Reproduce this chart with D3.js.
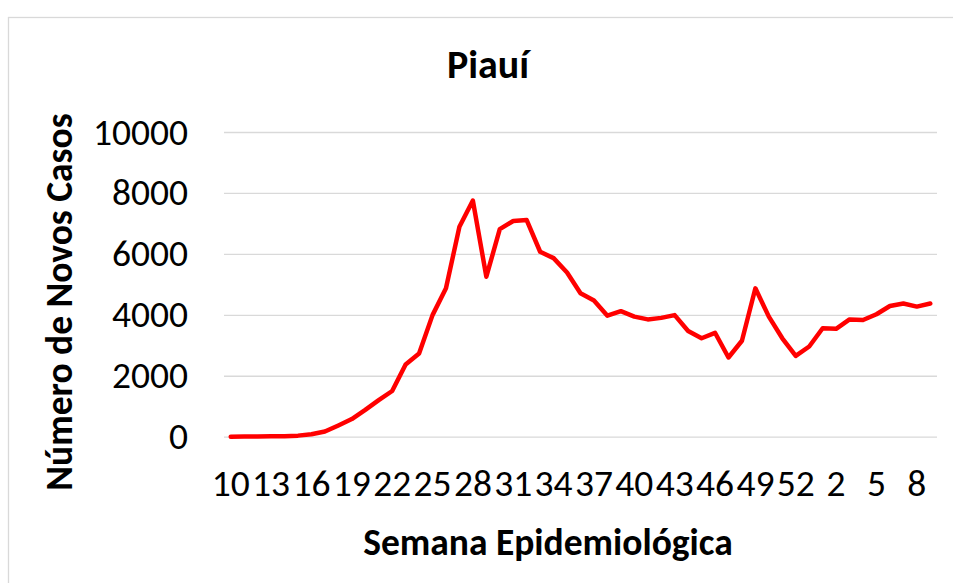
<!DOCTYPE html>
<html>
<head>
<meta charset="utf-8">
<script src="https://cdn.jsdelivr.net/npm/d3@7"></script>
<style>
  body { margin: 0; background: #fff; }
  svg text { font-family: Carlito, "Open Sans", "Liberation Sans", sans-serif; fill: #000; }
  .tick-label { font-size: 37.5px; }
  .bold-label { font-size: 37.5px; font-weight: bold; }
  .chart-title { font-size: 40px; font-weight: bold; }
</style>
</head>
<body>
<div id="chart"></div>
<script>
// weeks 10-53 of 2020, then 1-9 of 2021
var weeks = ["10","11","12","13","14","15","16","17","18","19","20","21","22","23","24","25","26","27","28","29",
    "30","31","32","33","34","35","36","37","38","39","40","41","42","43","44","45","46","47","48","49",
    "50","51","52","53","1","2","3","4","5","6","7","8","9"];

var newCases = [2, 3, 8, 12, 18, 35, 80, 170, 370, 580, 880, 1200, 1500, 2370, 2730, 3990, 4870, 6890, 7750, 5250,
    6810, 7080, 7110, 6070, 5860, 5390, 4710, 4470, 3970, 4120, 3940, 3850, 3900, 3990, 3470, 3230, 3410, 2600, 3150, 4870,
    3940, 3230, 2650, 2960, 3560, 3540, 3850, 3830, 4020, 4290, 4370, 4270, 4370];

var yTicks = [0, 2000, 4000, 6000, 8000, 10000];
var xTickLabels = weeks.filter(function(d, i) { return i % 3 === 0; });

var width = 953, height = 583;
var plot = { left: 224, right: 937, top: 132, bottom: 436.7 };

var svg = d3.select("#chart").append("svg")
    .attr("width", width)
    .attr("height", height);

// chart area border
svg.append("rect")
    .attr("x", 8.5)
    .attr("y", 17.5)
    .attr("width", width + 20)
    .attr("height", height + 20)
    .attr("fill", "#fff")
    .attr("stroke", "#d9d9d9")
    .attr("stroke-width", 1.3);

var x = d3.scaleBand()
    .domain(weeks)
    .range([plot.left, plot.right]);

var y = d3.scaleLinear()
    .domain([0, 10000])
    .range([plot.bottom, plot.top]);

// gridlines + y labels
var yAxis = svg.append("g")
    .attr("transform", "translate(" + plot.left + ",0)")
    .call(d3.axisLeft(y).tickValues(yTicks).tickSize(-(plot.right - plot.left)).tickPadding(36).tickFormat(d3.format("d")));

yAxis.select(".domain").remove();
yAxis.selectAll(".tick line")
    .attr("stroke", "#d9d9d9")
    .attr("stroke-width", 1.3);
yAxis.selectAll(".tick text")
    .attr("class", "tick-label")
    .attr("dy", "0.32em");

// x labels
var xAxis = svg.append("g")
    .attr("transform", "translate(0," + plot.bottom + ")")
    .call(d3.axisBottom(x).tickValues(xTickLabels).tickSize(0));

xAxis.select(".domain").remove();
xAxis.selectAll(".tick text")
    .attr("class", "tick-label")
    .attr("y", 59.5)
    .attr("dy", 0);

var line = d3.line()
    .x(function(d, i) { return x(weeks[i]) + x.bandwidth() / 2; })
    .y(function(d) { return y(d); });

svg.append("path")
    .datum(newCases)
    .attr("d", line)
    .attr("fill", "none")
    .attr("stroke", "#ff0000")
    .attr("stroke-width", 4.5)
    .attr("stroke-linejoin", "round")
    .attr("stroke-linecap", "round");

// titles
svg.append("text")
    .attr("class", "chart-title")
    .attr("x", 488)
    .attr("y", 77.5)
    .attr("text-anchor", "middle")
    .text("Piauí");

svg.append("text")
    .attr("class", "bold-label")
    .attr("x", 548)
    .attr("y", 555)
    .attr("text-anchor", "middle")
    .text("Semana Epidemiológica");

svg.append("text")
    .attr("class", "bold-label")
    .attr("transform", "translate(72,302) rotate(-90)")
    .attr("text-anchor", "middle")
    .text("Número de Novos Casos");
</script>
</body>
</html>
